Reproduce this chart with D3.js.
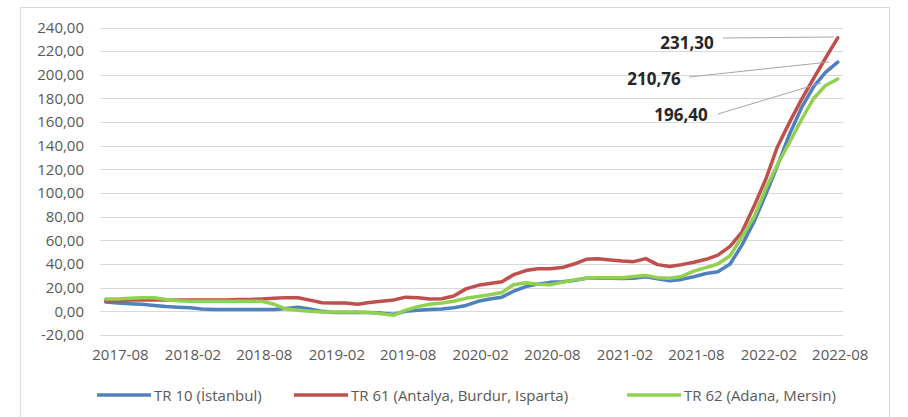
<!DOCTYPE html>
<html>
<head>
<meta charset="utf-8">
<script src="https://cdn.jsdelivr.net/npm/d3@7"></script>
<style>
body { margin: 0; background: #fff; }
svg text { font-family: "Open Sans", sans-serif; }
</style>
</head>
<body>
<div id="chart"></div>
<script>
const width = 908
const height = 417

// months (category axis)
const months = [
    "2017-07","2017-08","2017-09","2017-10","2017-11","2017-12",
    "2018-01","2018-02","2018-03","2018-04","2018-05","2018-06","2018-07","2018-08","2018-09","2018-10","2018-11","2018-12",
    "2019-01","2019-02","2019-03","2019-04","2019-05","2019-06","2019-07","2019-08","2019-09","2019-10","2019-11","2019-12",
    "2020-01","2020-02","2020-03","2020-04","2020-05","2020-06","2020-07","2020-08","2020-09","2020-10","2020-11","2020-12",
    "2021-01","2021-02","2021-03","2021-04","2021-05","2021-06","2021-07","2021-08","2021-09","2021-10","2021-11","2021-12",
    "2022-01","2022-02","2022-03","2022-04","2022-05","2022-06","2022-07","2022-08"
]
const tickLabels = ["2017-08","2018-02","2018-08","2019-02","2019-08","2020-02","2020-08","2021-02","2021-08","2022-02","2022-08"]
const yTicks = [-20, 0, 20, 40, 60, 80, 100, 120, 140, 160, 180, 200, 220, 240]

const seriesNames = ["TR 10 (İstanbul)", "TR 61 (Antalya, Burdur, Isparta)", "TR 62 (Adana, Mersin)"]
const colors = ["#4f81bd", "#c0504d", "#92d050"]

const istanbul = [8, 7, 6.5, 6, 5, 4, 3.5, 3, 2, 1.5, 1.5, 1.5, 1.5, 1.5, 1.5, 2.5, 3.5, 2,
    0, -1, -1, -1, -1, -1.5, -2.5, 0, 1, 1.5, 2, 3,
    5, 8.5, 10.5, 12, 17, 21, 23, 24.5, 25, 26, 28, 28,
    28, 27.8, 28, 29.3, 27.5, 25.8, 27, 29.3, 32, 33.5, 40, 56,
    76, 100, 123, 150, 172, 190, 202, 210.76]
const antalya = [9, 9, 9.5, 9.5, 9.5, 9.5, 9.5, 9.5, 9.5, 9.5, 9.5, 10, 10, 10.5, 11, 11.6, 11.5, 9.5,
    7.3, 7, 7, 6, 7.5, 8.5, 9.6, 12, 11.5, 10.5, 10.7, 13,
    19, 22, 23.5, 25, 31, 34.5, 36, 36, 37, 40, 44, 44.5,
    43.5, 42.5, 42, 44.6, 39.5, 38, 39.5, 41.5, 44, 47.5, 55, 67,
    89, 113, 139, 160, 179, 197, 214, 231.3]
const adana = [10.5, 10.5, 11, 11.5, 11.5, 10, 9, 8.5, 8.5, 8.5, 8.5, 8.5, 8.5, 8.5, 6, 2, 1, 0,
    -0.5, -0.5, -0.5, -0.5, -1, -2, -3.4, 1, 4, 6, 7, 8.5,
    11, 12.5, 14, 16, 22.5, 24.2, 23, 22.5, 24.5, 26.5, 28, 28.5,
    28.5, 28.5, 29.5, 30.4, 28.5, 28, 29.5, 34, 37, 40, 47, 63,
    80, 105, 124, 143, 162, 180, 191, 196.4]
const endLabels = ["210,76", "231,30", "196,40"]

const parse = d3.timeParse("%Y-%m")
const trFormat = d => d3.format(".2f")(d).replace("\u2212", "-").replace(".", ",")

const svg = d3.select("div#chart").append("svg").attr("width", width).attr("height", height)

svg.append("rect")
    .attr("x", 20.5).attr("y", 7.5)
    .attr("width", 869).attr("height", 420)
    .attr("fill", "#fff").attr("stroke", "#d9d9d9")

const x = d3.scaleTime()
    .domain([parse(months[0]), parse(months[months.length - 1])])
    .range([105.7, 837.7])
const y = d3.scaleLinear().domain([-20, 240]).range([335, 27.5])

// grid
svg.append("g").selectAll("line").data(yTicks).join("line")
    .attr("x1", 100).attr("x2", 843)
    .attr("y1", d => Math.round(y(d)) + 0.5).attr("y2", d => Math.round(y(d)) + 0.5)
    .attr("stroke", "#d9d9d9").attr("stroke-width", 1)

const yAxis = d3.axisLeft(y).tickValues(yTicks).tickSize(0).tickPadding(0)
    .tickFormat(trFormat)
const yAxisGroup = svg.append("g").attr("transform", "translate(84, 0)").call(yAxis)
yAxisGroup.select(".domain").remove()
yAxisGroup.selectAll("text").attr("font-size", 15).attr("fill", "#595959")
    .attr("font-family", "Open Sans")

const xAxis = d3.axisBottom(x).tickValues(tickLabels.map(parse)).tickSize(0).tickPadding(14)
    .tickFormat(d3.timeFormat("%Y-%m"))
const xAxisGroup = svg.append("g").attr("transform", "translate(2, 335)").call(xAxis)
xAxisGroup.select(".domain").remove()
xAxisGroup.selectAll("text").attr("font-size", 15).attr("fill", "#595959")
    .attr("font-family", "Open Sans")

const series = [istanbul, antalya, adana]
const line = d3.line()
    .x((d, i) => x(parse(months[i])))
    .y(d => y(d))

svg.append("g").selectAll("path").data(series).join("path")
    .attr("d", line)
    .attr("fill", "none")
    .attr("stroke", (d, i) => colors[i])
    .attr("stroke-width", 3.5)
    .attr("stroke-linejoin", "round")
    .attr("stroke-linecap", "round")

// data labels with leader lines
const labelPos = [
    { tx: 654, ty: 78, lx1: 689, ly1: 77, lx2: 829, ly2: 62 },
    { tx: 687, ty: 42, lx1: 723, ly1: 38, lx2: 834, ly2: 37 },
    { tx: 681, ty: 114, lx1: 718, ly1: 114, lx2: 821, ly2: 83 }
]
const labels = svg.append("g")
labelPos.forEach((p, i) => {
    labels.append("line")
        .attr("x1", p.lx1).attr("y1", p.ly1).attr("x2", p.lx2).attr("y2", p.ly2)
        .attr("stroke", "#a6a6a6").attr("stroke-width", 1)
    labels.append("text")
        .attr("x", p.tx).attr("y", p.ty)
        .attr("text-anchor", "middle").attr("dominant-baseline", "central")
        .attr("font-size", 17).attr("font-weight", "bold").attr("fill", "#262626")
        .text(endLabels[i])
})

// legend
const legendX = [97, 294, 627]
const legend = svg.append("g").selectAll("g").data(seriesNames).join("g")
    .attr("transform", (d, i) => `translate(${legendX[i]}, 395)`)
legend.append("line").attr("x1", 0).attr("x2", 54).attr("y1", 0).attr("y2", 0)
    .attr("stroke", (d, i) => colors[i]).attr("stroke-width", 3.5)
legend.append("text").attr("x", 57).attr("y", 0).attr("dominant-baseline", "central")
    .attr("font-size", 15).attr("fill", "#595959")
    .text(d => d)
</script>
</body>
</html>
